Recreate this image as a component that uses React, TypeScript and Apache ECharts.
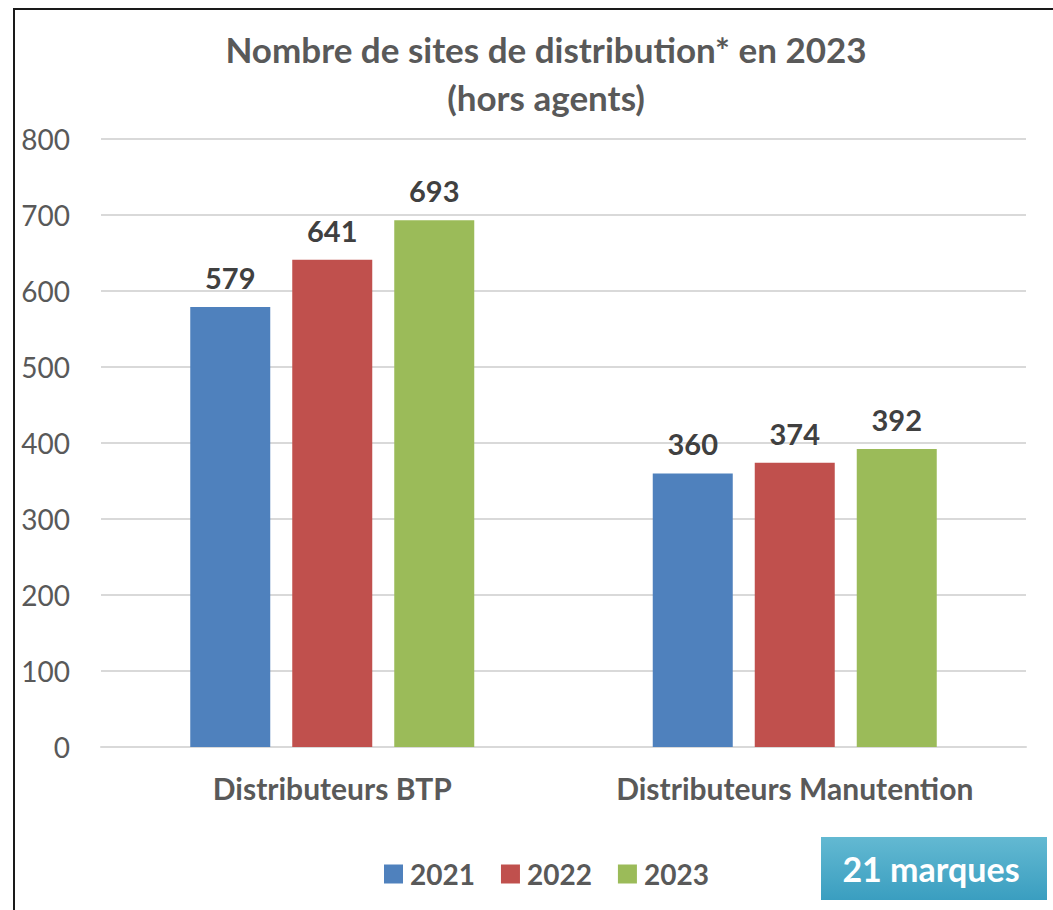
import React, { useEffect, useRef } from "react";
import * as echarts from "echarts";

const categories = ["Distributeurs BTP", "Distributeurs Manutention"];
const years = ["2021", "2022", "2023"];
const values2021 = [579, 360];
const values2022 = [641, 374];
const values2023 = [693, 392];
const colors = ["#4f81bd", "#c0504d", "#9bbb59"];
const FONT = "Lato, 'Noto Sans', sans-serif";

export default function App() {
  const ref = useRef<HTMLDivElement>(null);
  useEffect(() => {
    if (!ref.current) return;
    const chart = echarts.init(ref.current, undefined, { renderer: "svg" });
    const seriesData = [values2021, values2022, values2023];
    chart.setOption({
      animation: false,
      backgroundColor: "#ffffff",
      textStyle: { fontFamily: FONT },
      title: {
        text: "Nombre de sites de distribution* en 2023\n(hors agents)",
        left: 541,
        top: 20,
        textAlign: "center",
        textStyle: {
          fontFamily: FONT,
          fontSize: 35,
          fontWeight: "bold",
          color: "#595959",
          lineHeight: 48,
        },
      },
      legend: {
        data: years,
        left: 379,
        top: 855,
        itemWidth: 19,
        itemHeight: 19,
        itemGap: 26,
        icon: "rect",
        textStyle: { fontFamily: FONT, fontSize: 28, fontWeight: "bold", color: "#595959", padding: [0, 0, 0, 2] },
      },
      grid: { left: 101, right: 27, top: 139, bottom: 163, containLabel: false },
      xAxis: {
        type: "category",
        data: categories,
        axisLine: { show: true, lineStyle: { color: "#d9d9d9", width: 2 } },
        axisTick: { show: false },
        axisLabel: {
          interval: 0,
          hideOverlap: false,
          fontFamily: FONT,
          fontSize: 30,
          fontWeight: "bold",
          color: "#595959",
          margin: 26,
        },
      },
      yAxis: {
        type: "value",
        min: 0,
        max: 800,
        interval: 100,
        axisLine: { show: false },
        axisTick: { show: false },
        splitLine: { lineStyle: { color: "#d9d9d9", width: 2 } },
        axisLabel: { fontFamily: FONT, fontSize: 28, color: "#595959", margin: 31 },
      },
      series: years.map((y, i) => ({
        name: y,
        type: "bar",
        data: seriesData[i],
        barWidth: 80,
        barGap: "27.5%",
        itemStyle: { color: colors[i] },
        label: {
          show: true,
          position: "top",
          distance: 15,
          fontFamily: FONT,
          fontSize: 29,
          fontWeight: "bold",
          color: "#404040",
        },
      })),
      graphic: [
        {
          type: "rect",
          shape: { x: 14, y: 9, width: 1100, height: 1000 },
          style: { fill: "none", stroke: "#1a1a1a", lineWidth: 2 },
          z: 100,
        },
        {
          type: "rect",
          shape: { x: 821, y: 837, width: 226, height: 63 },
          style: {
            fill: new echarts.graphic.LinearGradient(0, 0, 0, 1, [
              { offset: 0, color: "#63b9d2" },
              { offset: 1, color: "#3a9ec0" },
            ]),
          },
          z: 100,
        },
        {
          type: "text",
          x: 931,
          y: 868,
          style: {
            text: "21 marques",
            fill: "#ffffff",
            font: `bold 34px ${FONT}`,
            align: "center",
            verticalAlign: "middle",
          },
          z: 101,
        },
      ],
    });
    return () => chart.dispose();
  }, []);
  return (
    <div
      ref={ref}
      style={{ position: "fixed", left: 0, top: 0, width: 1053, height: 910 }}
    />
  );
}
